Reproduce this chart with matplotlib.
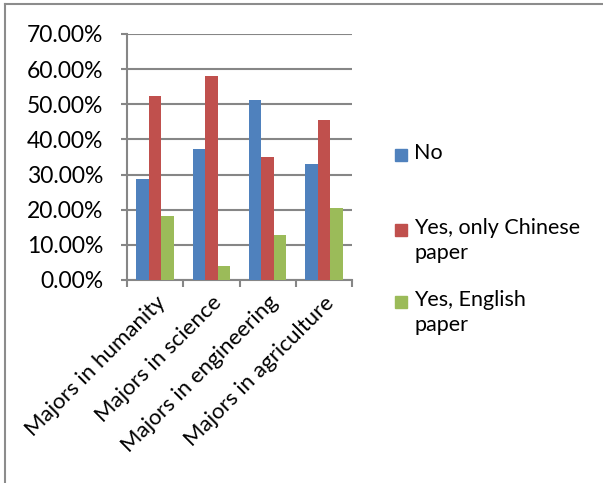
import numpy as np
import matplotlib.pyplot as plt
from matplotlib.patches import Rectangle
from matplotlib.lines import Line2D
from matplotlib.ticker import PercentFormatter

majors = ['Majors in humanity', 'Majors in science', 'Majors in engineering', 'Majors in agriculture']
series = ['No', 'Yes, only Chinese\npaper', 'Yes, English\npaper']
no_vals = [28.6, 37.3, 51.1, 33.0]
chinese_vals = [52.3, 58.0, 35.0, 45.6]
english_vals = [18.1, 3.9, 12.9, 20.6]
colors = ['#4F81BD', '#C0504D', '#9BBB59']

plt.rcParams['font.family'] = ['Lato', 'DejaVu Sans']
grid_col = '#868686'

fig = plt.figure(figsize=(6.03, 4.83), dpi=100)
ax = fig.add_axes([127/603, 1-280/483, 225/603, 246/483])

x = np.arange(len(majors))
w = 0.222
for i, vals in enumerate([no_vals, chinese_vals, english_vals]):
	ax.bar(x + (i-1)*w, vals, w, color=colors[i], zorder=3)

ax.set_xlim(-0.5, len(majors)-0.5)
ax.set_ylim(0, 70)
ax.set_yticks(np.arange(0, 71, 10))
ax.yaxis.set_major_formatter(PercentFormatter(decimals=2))
ax.grid(axis='y', color=grid_col, linewidth=1.5, zorder=0)
for s in ['top', 'right']:
	ax.spines[s].set_visible(False)
for s in ['left', 'bottom']:
	ax.spines[s].set_color(grid_col)
	ax.spines[s].set_linewidth(1.5)
ax.tick_params(axis='y', length=4, width=1.5, color=grid_col, pad=13, labelsize=16.5)

# category boundary ticks below the axis
ax.set_xticks(np.arange(-0.5, len(majors)), minor=True)
ax.tick_params(axis='x', which='minor', length=5, width=1.5, color=grid_col)
ax.set_xticks(x)
ax.set_xticklabels(majors, rotation=45, ha='right', rotation_mode='anchor', fontsize=16)
ax.tick_params(axis='x', which='major', length=0, pad=9)

# legend drawn by hand so the swatch sits on the first line of the label
leg_y = [155, 230, 302]
for c, lab, yy in zip(colors, series, leg_y):
	fig.patches.append(Rectangle((395/603, 1-(yy+6)/483), 12/603, 12/483,
		transform=fig.transFigure, color=c))
	fig.text(414/603, 1-(yy-12)/483, lab, fontsize=15.5, va='top', ha='left', linespacing=1.3)

# outer frame (left and top only)
fig.lines.append(Line2D([5/603, 5/603], [0, 1-4/483], transform=fig.transFigure, color='#8c8c8c', lw=1.5))
fig.lines.append(Line2D([5/603, 1], [1-4/483, 1-4/483], transform=fig.transFigure, color='#8c8c8c', lw=1.5))

fig.savefig('out.png', dpi=100)
